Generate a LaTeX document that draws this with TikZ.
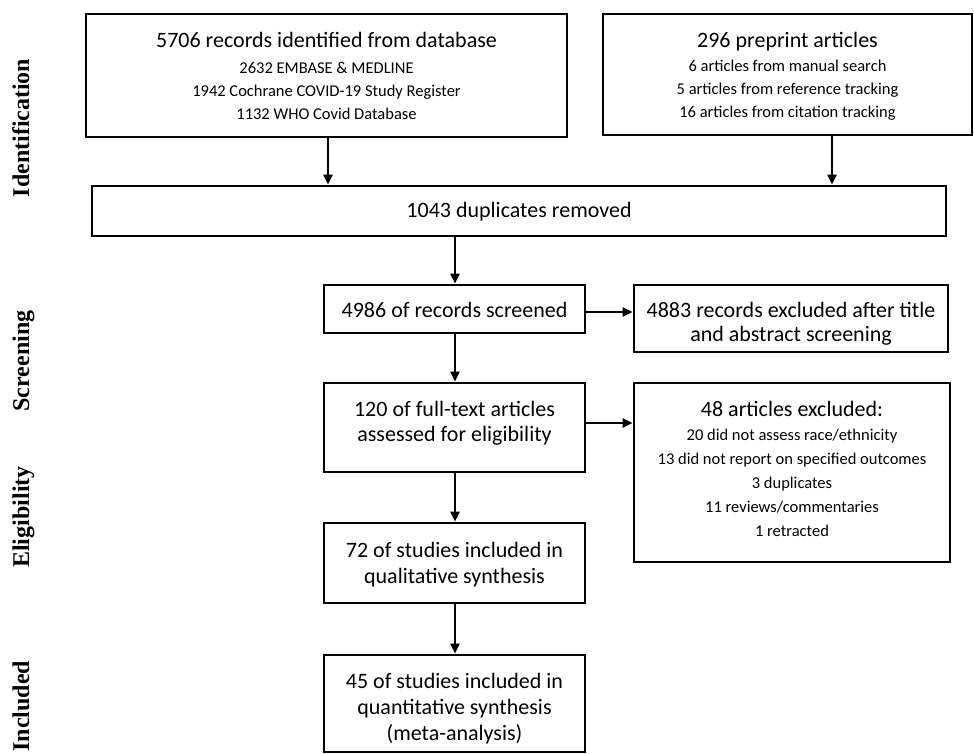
\documentclass[tikz,border=0pt]{standalone}
\usepackage{fontspec}
\setmainfont{Carlito}
\newfontfamily\labfont{Liberation Serif}
\usetikzlibrary{arrows.meta}
\tikzset{
  box/.style={draw=black, line width=2.7pt, inner sep=0pt, minimum width=#1},
  box/.default=261pt,
  mtext/.style={inner sep=0pt, anchor=base, font=\fontsize{22}{26}\selectfont},
  stext/.style={inner sep=0pt, anchor=base, font=\fontsize{16.5}{20}\selectfont},
  side/.style={inner sep=0pt, anchor=base, rotate=90, font=\labfont\bfseries\fontsize{24}{26}\selectfont},
  arr/.style={line width=2pt, -{Triangle[length=10pt,width=9pt]}}
}
\begin{document}
\begin{tikzpicture}[x=1pt,y=-1pt]
\useasboundingbox (0,0) rectangle (974,754);
% boxes
\node[box=481pt, minimum height=123pt] (db) at (326.5,75.5) {};
\node[box=369pt, minimum height=121pt] (pre) at (787.5,74.5) {};
\node[box=854pt, minimum height=50pt] (dup) at (519,211) {};
\node[box, minimum height=48pt] (scr) at (454.5,309) {};
\node[box=314pt, minimum height=67pt] (exa) at (791,318.5) {};
\node[box, minimum height=89pt] (full) at (454.5,427.5) {};
\node[box=316pt, minimum height=179pt] (exb) at (792,472.5) {};
\node[box, minimum height=80pt] (qual) at (454.5,563) {};
\node[box, minimum height=97pt] (quant) at (454.5,703.5) {};
% texts
\node[mtext] (db1) at (326.5,48) {5706 records identified from database};
\node[stext] (db2) at (326.5,74) {2632 EMBASE \& MEDLINE};
\node[stext] (db3) at (326.5,97) {1942 Cochrane COVID-19 Study Register};
\node[stext] (db4) at (326.5,120) {1132 WHO Covid Database};
\node[mtext] (pr1) at (787.5,48) {296 preprint articles};
\node[stext] (pr2) at (787.5,72) {6 articles from manual search};
\node[stext] (pr3) at (787.5,95) {5 articles from reference tracking};
\node[stext] (pr4) at (787.5,118) {16 articles from citation tracking};
\node[mtext] (du1) at (519,217.5) {1043 duplicates removed};
\node[mtext] (sc1) at (454.5,317) {4986 of records screened};
\node[mtext] (ea1) at (791,317) {4883 records excluded after title};
\node[mtext] (ea2) at (791,341) {and abstract screening};
\node[mtext] (fu1) at (454.5,416) {120 of full-text articles};
\node[mtext] (fu2) at (454.5,441) {assessed for eligibility};
\node[mtext] (eb1) at (792,416) {48 articles excluded:};
\node[stext] (eb2) at (792,440) {20 did not assess race/ethnicity};
\node[stext] (eb3) at (792,464) {13 did not report on specified outcomes};
\node[stext] (eb4) at (792,488) {3 duplicates};
\node[stext] (eb5) at (792,512) {11 reviews/commentaries};
\node[stext] (eb6) at (792,536) {1 retracted};
\node[mtext] (ql1) at (454.5,557) {72 of studies included in};
\node[mtext] (ql2) at (454.5,583) {qualitative synthesis};
\node[mtext] (qn1) at (454.5,688) {45 of studies included in};
\node[mtext] (qn2) at (454.5,714) {quantitative synthesis};
\node[mtext] (qn3) at (454.5,740) {(meta-analysis)};
% side labels
\node[side] (s1) at (29,128) {Identification};
\node[side] (s2) at (29,361) {Screening};
\node[side] (s3) at (29,517) {Eligibility};
\node[side] (s4) at (29,706) {Included};
% connectors
\coordinate (c1) at (328,0);
\coordinate (c2) at (832,0);
\coordinate (c3) at (455,0);
\coordinate (r1) at (0,312);
\coordinate (r2) at (0,423);
\draw[arr] (db.south -| c1) -- (dup.north -| c1);
\draw[arr] (pre.south -| c2) -- (dup.north -| c2);
\draw[arr] (dup.south -| c3) -- (scr.north -| c3);
\draw[arr] (scr.south -| c3) -- (full.north -| c3);
\draw[arr] (full.south -| c3) -- (qual.north -| c3);
\draw[arr] (qual.south -| c3) -- (quant.north -| c3);
\draw[arr] (scr.east |- r1) -- (exa.west |- r1);
\draw[arr] (full.east |- r2) -- (exb.west |- r2);
\end{tikzpicture}
\end{document}
